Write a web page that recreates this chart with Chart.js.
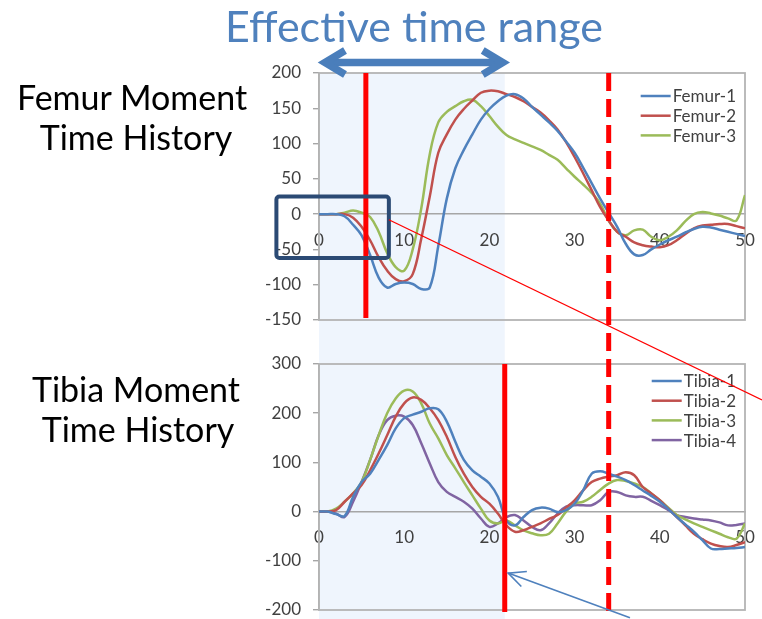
<!DOCTYPE html>
<html>
<head>
<meta charset="utf-8">
<script src="https://cdn.jsdelivr.net/npm/chart.js@4.4.0/dist/chart.umd.min.js"></script>
<style>
  html, body { margin: 0; padding: 0; background: #fff; }
  #wrap { position: relative; width: 762px; height: 619px; overflow: hidden; font-family: Lato, "Open Sans", sans-serif; }
  canvas { position: absolute; }
  .lbl { position: absolute; line-height: 1; white-space: nowrap; text-align: center; }
</style>
</head>
<body>
<div id="wrap">
  <canvas id="bg" width="762" height="619" style="left:0;top:0;z-index:0"></canvas>
  <canvas id="femur" width="512" height="302" style="left:250px;top:40px;z-index:1"></canvas>
  <canvas id="tibia" width="512" height="277" style="left:250px;top:342px;z-index:1"></canvas>
  <canvas id="fg" width="762" height="619" style="left:0;top:0;z-index:2"></canvas>
  <div class="lbl" style="left:164px;width:500px;top:4px;font-size:43px;color:#4f81bd">Effective time range</div>
  <div class="lbl" style="left:2px;width:260px;top:80px;font-size:34px;color:#000">Femur Moment</div>
  <div class="lbl" style="left:6px;width:260px;top:120px;font-size:34px;color:#000">Time History</div>
  <div class="lbl" style="left:6px;width:260px;top:372px;font-size:34px;color:#000">Tibia Moment</div>
  <div class="lbl" style="left:8px;width:260px;top:412px;font-size:34px;color:#000">Time History</div>
</div>
<script>
// time axis (ms), one sample per step
const time = [0,1,2,3,4,5,6,7,8,9,10,11,12,13,14,15,16,17,18,19,20,21,22,23,24,25,26,27,28,29,30,
  31,32,33,34,35,36,37,38,39,40,41,42,43,44,45,46,47,48,49,50];

const femur1 = [0,0,0,-3,-15,-30,-58,-90,-104,-99,-97,-99,-106,-104,-45,22,65,91,113,134,149,160,168,170,164,152,
  141,130,118,103,87,66,44,22,2,-18,-42,-57,-58,-50,-43,-37,-32,-26,-21,-18,-19,-22,-25,-28,-31];
const femur2 = [0,0,0,0,-5,-18,-37,-61,-80,-92,-95,-85,-35,25,87,113,134,149,161,172,175,174,170,166,160,152,
  144,133,120,102,81,58,34,10,-9,-25,-32,-40,-44,-46,-47,-44,-37,-28,-20,-16,-15,-14,-14,-17,-20];
const femur3 = [0,0,0,2,5,2,-4,-25,-55,-75,-80,-50,8,85,130,145,153,160,162,153,139,124,112,106,101,96,
  91,84,77,65,53,42,30,15,-9,-25,-30,-23,-22,-32,-37,-32,-23,-10,0,3,1,-2,-6,-9,27];

const tibia1 = [0,0,-5,-9,30,60,77,105,135,169,190,197,203,210,208,183,142,105,84,71,57,30,-18,-28,-11,3,
  8,6,-1,3,16,43,77,82,77,71,64,54,43,32,20,5,-11,-26,-41,-58,-75,-76,-75,-74,-72];
const tibia2 = [0,0,3,20,37,54,84,118,155,193,220,232,227,210,186,152,111,77,50,30,16,-4,-28,-41,-38,-31,
  -24,-15,-7,8,23,43,60,67,71,74,80,74,50,37,23,6,-11,-28,-45,-56,-65,-70,-72,-68,-62];
const tibia3 = [0,0,6,20,37,60,105,155,200,230,246,244,220,179,149,115,88,60,33,6,-18,-24,-18,-28,-38,-44,
  -48,-45,-24,0,16,20,30,44,57,64,62,57,50,37,23,8,-7,-16,-24,-31,-38,-45,-52,-55,-24];
const tibia4 = [0,0,-4,-11,20,60,105,155,186,195,193,176,139,98,60,40,30,20,6,-14,-31,-24,-11,-7,-18,-31,
  -38,-24,-4,10,13,13,13,23,40,40,33,30,30,22,13,3,-7,-11,-14,-16,-18,-22,-28,-27,-24];

const femurLabels = ["Femur-1", "Femur-2", "Femur-3"];
const tibiaLabels = ["Tibia-1", "Tibia-2", "Tibia-3", "Tibia-4"];
const seriesColors = ["#4f81bd", "#c0504d", "#9bbb59", "#8064a2"];

// time markers
const rangeStart = 0;
const femurMarker = 5.5;
const tibiaMarker = 21.8;
const endMarker = 34;

const tickFont = { family: "Lato", size: 17 };
const axisGray = "#a6a6a6";

const plotFrame = {
  id: "plotFrame",
  beforeDatasetsDraw(chart) {
    const { ctx, chartArea: a } = chart;
    ctx.save();
    ctx.strokeStyle = "#b4b4b4";
    ctx.lineWidth = 1.8;
    ctx.strokeRect(a.left, a.top, a.right - a.left, a.bottom - a.top);
    ctx.restore();
  }
};

const insideLegend = {
  id: "insideLegend",
  afterDraw(chart, args, opts) {
    const { ctx, chartArea: a } = chart;
    ctx.save();
    ctx.font = "17px Lato";
    let maxW = 0;
    chart.data.datasets.forEach(d => { maxW = Math.max(maxW, ctx.measureText(d.label).width); });
    const textX = a.right - 9 - maxW;
    chart.data.datasets.forEach((d, i) => {
      const y = a.top + opts.top + i * 19.7;
      ctx.strokeStyle = d.borderColor;
      ctx.lineWidth = 2.5;
      ctx.beginPath();
      ctx.moveTo(textX - 32, y);
      ctx.lineTo(textX - 2, y);
      ctx.stroke();
      ctx.fillStyle = "#404040";
      ctx.textBaseline = "middle";
      ctx.fillText(d.label, textX, y + 1);
    });
    ctx.restore();
  }
};

function makeSets(labels, seriesList) {
  return seriesList.map((vals, i) => ({
    label: labels[i],
    data: vals.map((v, k) => ({ x: time[k], y: v })),
    borderColor: seriesColors[i],
    borderWidth: 2.5,
    pointRadius: 0,
    tension: 0.4,
    fill: false
  }));
}

function makeOptions(yMin, yMax, yStep, padding, legendTop) {
  return {
    responsive: false,
    animation: false,
    layout: { padding },
    plugins: {
      legend: { display: false },
      tooltip: { enabled: false },
      insideLegend: { top: legendTop }
    },
    scales: {
      x: {
        type: "linear", min: 0, max: 50,
        position: { y: 0 },
        grid: { display: false, drawTicks: false },
        border: { display: true, color: axisGray, width: 1.4 },
        ticks: { stepSize: 10, padding: 16, color: "#404040", font: tickFont, maxRotation: 0 },
        afterFit(s) { s.paddingLeft = 0; s.paddingRight = 0; }
      },
      y: {
        min: yMin, max: yMax,
        grid: { display: true, drawOnChartArea: false, drawTicks: true, tickLength: 6, color: axisGray, lineWidth: 1.4 },
        border: { display: true, color: axisGray, width: 1.4 },
        ticks: { stepSize: yStep, padding: 12, color: "#404040", font: tickFont },
        afterFit(s) { s.width = 55; s.paddingTop = 0; s.paddingBottom = 0; }
      }
    }
  };
}

const femurChart = new Chart(document.getElementById("femur"), {
  type: "line",
  data: { datasets: makeSets(femurLabels, [femur1, femur2, femur3]) },
  options: makeOptions(-150, 200, 50, { left: 14, right: 17, top: 33, bottom: 22 }, 23),
  plugins: [plotFrame, insideLegend]
});

const tibiaChart = new Chart(document.getElementById("tibia"), {
  type: "line",
  data: { datasets: makeSets(tibiaLabels, [tibia1, tibia2, tibia3, tibia4]) },
  options: makeOptions(-200, 300, 100, { left: 14, right: 17, top: 22, bottom: 9 }, 17),
  plugins: [plotFrame, insideLegend]
});

function chevron(ctx, x, y, dx, dy, len, half) {
  // open arrow head pointing along (dx, dy) with tip at (x, y)
  const n = Math.hypot(dx, dy);
  const ux = dx / n, uy = dy / n;
  ctx.beginPath();
  ctx.moveTo(x - ux * len - uy * half, y - uy * len + ux * half);
  ctx.lineTo(x, y);
  ctx.lineTo(x - ux * len + uy * half, y - uy * len - ux * half);
  ctx.stroke();
}

function drawAnnotations() {
  const fx = v => 250 + femurChart.scales.x.getPixelForValue(v);
  const fy = v => 40 + femurChart.scales.y.getPixelForValue(v);
  const tx = v => 250 + tibiaChart.scales.x.getPixelForValue(v);
  const ty = v => 342 + tibiaChart.scales.y.getPixelForValue(v);
  const top = fy(200), bottom = ty(-200), pageBottom = 619;

  // shaded effective range, behind the charts
  const bg = document.getElementById("bg").getContext("2d");
  bg.fillStyle = "#eff5fd";
  bg.fillRect(fx(rangeStart), top, fx(tibiaMarker) - fx(rangeStart), pageBottom - top);

  const ctx = document.getElementById("fg").getContext("2d");

  // double arrow above the femur plot
  ctx.strokeStyle = "#4a7ebb";
  ctx.lineWidth = 7.5;
  ctx.lineCap = "butt";
  ctx.lineJoin = "miter";
  const ay = top - 10.5;
  ctx.beginPath();
  ctx.moveTo(fx(rangeStart) + 6, ay);
  ctx.lineTo(fx(tibiaMarker) - 2, ay);
  ctx.stroke();
  chevron(ctx, fx(rangeStart) + 6, ay, -1, 0, 20, 12);
  chevron(ctx, fx(tibiaMarker) - 2, ay, 1, 0, 20, 12);

  // red marker lines
  ctx.strokeStyle = "#ff0000";
  ctx.lineWidth = 5;
  ctx.beginPath();
  ctx.moveTo(fx(femurMarker), top);
  ctx.lineTo(fx(femurMarker), fy(-150) - 2);
  ctx.moveTo(tx(tibiaMarker), ty(300));
  ctx.lineTo(tx(tibiaMarker), bottom + 2);
  ctx.stroke();
  ctx.setLineDash([18, 8]);
  ctx.beginPath();
  ctx.moveTo(fx(endMarker), top);
  ctx.lineTo(fx(endMarker), pageBottom);
  ctx.stroke();
  ctx.setLineDash([]);

  // zoom box around the onset
  ctx.strokeStyle = "#2b4a74";
  ctx.lineWidth = 4;
  ctx.beginPath();
  if (ctx.roundRect) ctx.roundRect(fx(-5), fy(25), fx(8.2) - fx(-5), fy(-62) - fy(25), 3);
  else ctx.rect(fx(-5), fy(25), fx(8.2) - fx(-5), fy(-62) - fy(25));
  ctx.stroke();

  // thin red pointer line
  ctx.strokeStyle = "#ff0000";
  ctx.lineWidth = 1.3;
  ctx.beginPath();
  ctx.moveTo(fx(8.2), fy(-8));
  ctx.lineTo(tx(52), ty(227));
  ctx.stroke();

  // thin blue arrow to the tibia marker
  ctx.strokeStyle = "#4f81bd";
  ctx.lineWidth = 1.6;
  const x0 = tx(36.5), y0 = ty(-216), x1 = tx(22.2), y1 = ty(-125);
  ctx.beginPath();
  ctx.moveTo(x0, y0);
  ctx.lineTo(x1, y1);
  ctx.stroke();
  chevron(ctx, x1, y1, x1 - x0, y1 - y0, 17, 8);
}

drawAnnotations();
</script>
</body>
</html>
